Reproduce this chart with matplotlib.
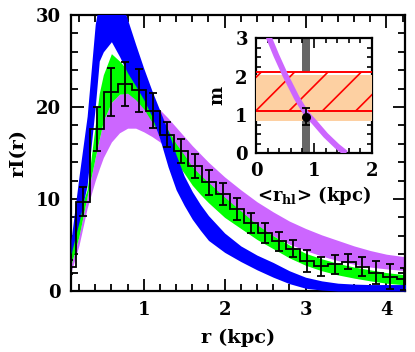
import numpy as np
import matplotlib
matplotlib.use("Agg")
import matplotlib.pyplot as plt

plt.rcParams['font.family'] = ['DejaVu Serif']
plt.rcParams['font.weight'] = 'bold'
plt.rcParams['mathtext.fontset'] = 'dejavuserif'
plt.rcParams['hatch.color'] = 'red'
plt.rcParams['hatch.linewidth'] = 1.2

# ---------------- data ----------------
# radial grid for model bands (kpc)
r_grid = [0.1, 0.2, 0.3, 0.4, 0.45, 0.5, 0.6, 0.7, 0.8, 0.9, 1.0, 1.1, 1.2, 1.3, 1.4, 1.5,
          1.6, 1.7, 1.8, 2.0, 2.2, 2.4, 2.6, 2.8, 3.0, 3.2, 3.4, 3.6, 3.8, 4.0, 4.25]

blue_hi = [5.5, 12.5, 19.0, 29.0, 31.5, 33.0, 34.0, 32.0, 29.5, 26.8, 24.2, 21.8, 19.6, 17.4, 14.8, 12.5,
           10.8, 9.4, 8.2, 6.3, 4.9, 3.9, 3.1, 2.2, 1.5, 1.1, 0.85, 0.75, 0.7, 0.7, 0.7]
blue_lo = [4.0, 7.5, 11.5, 20.0, 25.0, 26.0, 27.1, 25.5, 23.7, 22.3, 20.8, 19.0, 16.5, 13.5, 11.0, 9.3,
           7.8, 6.6, 5.5, 4.2, 3.2, 2.3, 1.5, 0.8, 0.3, 0.1, 0.0, 0.0, 0.0, 0.0, 0.0]

green_hi = [5.0, 8.5, 11.0, 18.0, 21.5, 23.5, 25.8, 25.0, 24.0, 23.0, 21.8, 20.5, 19.0, 17.5, 16.0, 14.8,
            13.5, 12.6, 11.8, 10.2, 8.7, 7.2, 6.0, 5.0, 4.1, 3.5, 3.0, 2.6, 2.3, 2.0, 1.75]
green_lo = [2.8, 6.0, 10.3, 14.5, 16.5, 18.5, 20.5, 21.4, 21.5, 20.8, 19.8, 18.4, 17.0, 15.5, 14.0, 12.8,
            11.5, 10.5, 9.6, 8.0, 6.8, 5.6, 4.6, 3.6, 2.8, 2.2, 1.75, 1.4, 1.1, 0.85, 0.65]

violet_hi = [2.8, 6.0, 10.3, 14.5, 16.5, 18.5, 20.5, 21.4, 21.6, 21.4, 21.0, 20.4, 19.7, 18.8, 17.8, 16.8,
             15.8, 14.9, 14.0, 12.4, 11.0, 9.7, 8.6, 7.6, 6.8, 6.1, 5.5, 4.9, 4.4, 4.0, 3.7]
violet_lo = [2.0, 5.0, 9.0, 12.0, 13.3, 14.5, 16.2, 17.2, 17.7, 17.7, 17.3, 16.8, 16.2, 15.5, 14.8, 14.0,
             13.2, 12.3, 11.4, 9.8, 8.4, 7.1, 6.0, 5.1, 4.4, 3.8, 3.3, 2.9, 2.6, 2.4, 2.2]

# binned profile (histogram with errors)
bin_centers = [0.075, 0.248, 0.421, 0.593, 0.766, 0.939, 1.112, 1.285, 1.457, 1.630, 1.803, 1.976, 2.149,
               2.321, 2.494, 2.667, 2.840, 3.013, 3.186, 3.358, 3.531, 3.704, 3.877, 4.050, 4.222]
bin_values = [2.6, 9.7, 17.6, 21.6, 22.5, 21.8, 19.6, 17.0, 15.2, 13.6, 11.8, 10.5, 8.9,
              7.4, 6.3, 5.4, 4.6, 3.3, 2.7, 2.9, 3.2, 2.65, 2.0, 1.55, 1.3]
bin_errors = [0.8, 1.6, 2.4, 2.6, 2.4, 2.3, 1.9, 1.4, 1.3, 1.3, 1.4, 1.2, 1.2,
              1.05, 1.1, 1.05, 0.95, 1.2, 1.05, 1.05, 0.85, 1.05, 1.25, 1.35, 1.2]
bin_width = 0.1728

# inset data
inset_curve_x = [0.2, 0.35, 0.5, 0.7, 0.86, 1.0, 1.2, 1.4, 1.55]
inset_curve_m = [3.1, 2.55, 2.05, 1.45, 1.05, 0.82, 0.47, 0.18, 0.0]
gray_band_x = [0.80, 0.93]
orange_band_m = [0.85, 2.03]
hatch_band_m = [1.11, 2.13]
point_x, point_m, point_err = 0.86, 0.95, 0.22

# ---------------- figure ----------------
fig = plt.figure(figsize=(4.15, 3.52), dpi=100)
ax = fig.add_axes([0.171, 0.1733, 0.805, 0.784])

ax.fill_between(r_grid, violet_lo, violet_hi, color='#cc66ff', lw=0, zorder=1)
ax.fill_between(r_grid, green_lo, green_hi, color='#00ff00', lw=0, zorder=2)
ax.fill_between(r_grid, blue_lo, blue_hi, color='#0000ff', lw=0, zorder=3)

bc = np.array(bin_centers)
edges = np.concatenate([bc - bin_width / 2, [bc[-1] + bin_width / 2]])
ax.stairs(bin_values, edges, color='black', lw=1.3, zorder=4)
ax.errorbar(bin_centers, bin_values, yerr=bin_errors, fmt='none', ecolor='black',
            elinewidth=1.3, capsize=3, capthick=1.3, zorder=5)

ax.set_xlim(0.1, 4.23)
ax.set_ylim(0, 30)
ax.set_xticks([1, 2, 3, 4])
ax.set_yticks([0, 10, 20, 30])
ax.set_xticks(np.arange(0.2, 4.21, 0.2), minor=True)
ax.set_yticks(np.arange(0, 30.1, 2), minor=True)
ax.tick_params(which='both', direction='in', top=True, right=True, width=1.3, labelsize=13)
ax.tick_params(which='major', length=9, pad=7)
ax.tick_params(which='minor', length=5)
for s in ax.spines.values():
    s.set_linewidth(1.6)
ax.set_xlabel('r (kpc)', fontsize=14, fontweight='bold', labelpad=7)
ax.set_ylabel('rI(r)', fontsize=14, fontweight='bold', labelpad=6)

# ---------------- inset ----------------
ins = fig.add_axes([0.617, 0.5645, 0.2795, 0.3267])
ins.set_facecolor('white')
ins.axvspan(gray_band_x[0], gray_band_x[1], color='#666666', lw=0, zorder=1)
ins.axhspan(hatch_band_m[0], hatch_band_m[1], facecolor='white', lw=0, zorder=2)
ins.axhspan(orange_band_m[0], orange_band_m[1], facecolor='#fdd0a2', lw=0, zorder=3)
ins.axhspan(hatch_band_m[0], hatch_band_m[1], facecolor='none', edgecolor='red', hatch='/', lw=0, zorder=4)
for m in hatch_band_m:
    ins.axhline(m, color='red', lw=1.4, zorder=5)
ins.plot(inset_curve_x, inset_curve_m, color='#cc66ff', lw=4.2, solid_capstyle='butt', zorder=6)
ins.errorbar([point_x], [point_m], yerr=[point_err], fmt='o', color='black', ms=5.5,
             elinewidth=1.3, capsize=3, capthick=1.3, zorder=7)
ins.set_xlim(0, 2)
ins.set_ylim(0, 3)
ins.set_xticks([0, 1, 2])
ins.set_yticks([0, 1, 2, 3])
ins.set_xticks(np.arange(0, 2.01, 0.2), minor=True)
ins.set_yticks(np.arange(0, 3.01, 0.25), minor=True)
ins.tick_params(which='both', direction='in', top=True, right=True, width=1.2, labelsize=13)
ins.tick_params(which='major', length=7, pad=6)
ins.tick_params(which='minor', length=3.5)
for s in ins.spines.values():
    s.set_linewidth(1.6)
ins.set_xlabel(r'<r$_{\mathbf{hl}}$> (kpc)', fontsize=13, fontweight='bold', labelpad=3)
ins.set_ylabel('m', fontsize=13, fontweight='bold', labelpad=6)

fig.savefig('out.png', dpi=100)
